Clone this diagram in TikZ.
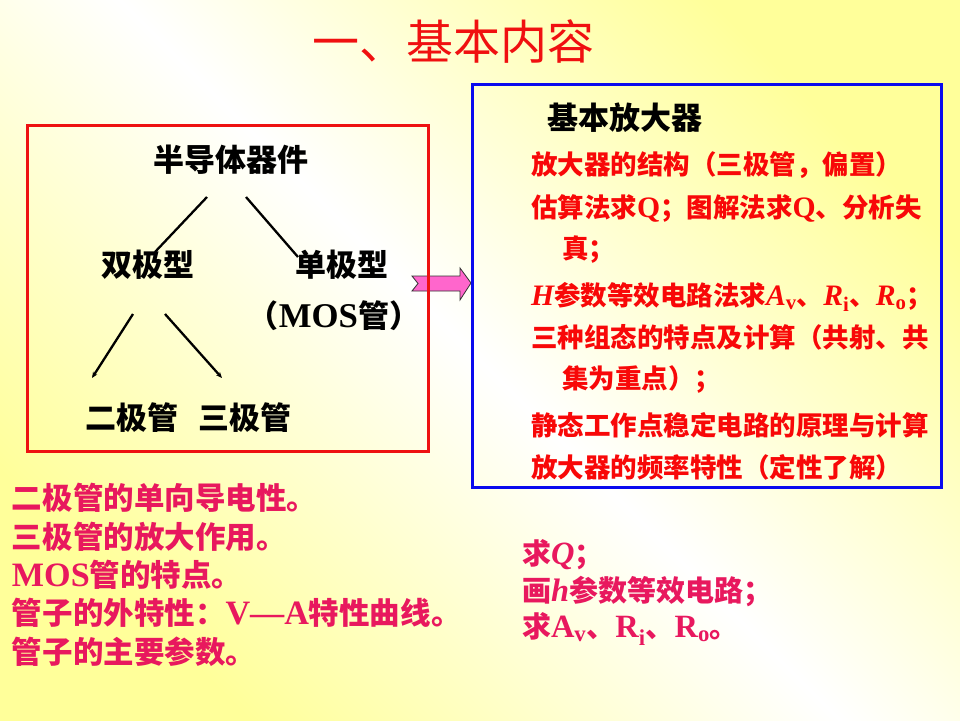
\documentclass[tikz,border=0pt]{standalone}
\usepackage{fontspec}
\setmainfont{Liberation Serif}
\newfontfamily\cjk{Noto Sans CJK SC}
\newfontfamily\enf{Liberation Serif}[Scale=1.12]
\usetikzlibrary{arrows.meta}
\definecolor{bgy}{HTML}{FFFF9A}
\definecolor{pinkt}{HTML}{E8185E}
\definecolor{redt}{HTML}{F80808}
\definecolor{titlered}{HTML}{F01010}
\definecolor{arrowpink}{HTML}{FF66CC}
\definecolor{boxred}{HTML}{EE1111}
\definecolor{boxblue}{HTML}{0A0AEE}
\newcommand\en[1]{{\enf\bfseries #1}}
\begin{document}
\begin{tikzpicture}[x=1pt,y=-1pt,
  every node/.style={inner sep=0pt,outer sep=0pt},
  blk/.style={font=\cjk\bfseries\fontsize{31}{36}\selectfont,text=black},
  redline/.style={anchor=west,font=\cjk\bfseries\fontsize{26.5}{30}\selectfont,text=redt},
  pinkline/.style={anchor=west,font=\cjk\bfseries\fontsize{30.5}{36}\selectfont,text=pinkt},
  pinkline2/.style={anchor=west,font=\cjk\bfseries\fontsize{29}{34}\selectfont,text=pinkt},
  treeline/.style={line width=2.3pt,black},
  treearrow/.style={line width=2.3pt,black,-{Stealth[length=6pt,width=5pt]}}]
\useasboundingbox (0,0) rectangle (960,720);
\shade[top color=bgy,bottom color=bgy,middle color=white,shading angle=-45] (0,0) rectangle (960,720);

% title
\node[font=\cjk\fontsize{47}{52}\selectfont,text=titlered] (title) at (453,42) {一、基本内容};

% pink block arrow
\draw[fill=arrowpink,draw=black!80,line width=0.8pt]
  (412,276) -- (460,276) -- (460,268) -- (471,283) -- (460,300) -- (460,291)
  -- (412,291) -- (418,283.5) -- cycle;

% boxes
\draw[boxred,line width=3pt] (27,125) rectangle (428,451);
\draw[boxblue,line width=3pt] (472,84) rectangle (941,487);

% tree
\node[blk] (semi) at (231,160) {半导体器件};
\node[blk] (bip) at (148,265) {双极型};
\node[blk] (uni) at (342,265) {单极型};
\node[blk] (mos) at (334,316) {（\en{MOS}管）};
\node[blk] (diode) at (132,418) {二极管};
\node[blk] (triode) at (245,418) {三极管};

\coordinate (l1a) at (207,197); \coordinate (l1b) at (155,252);
\coordinate (l2a) at (246,197); \coordinate (l2b) at (298,257);
\coordinate (l3a) at (133,314); \coordinate (l3b) at (92,378);
\coordinate (l4a) at (165,314); \coordinate (l4b) at (222,378);
\draw[treeline] (l1a) -- (l1b);
\draw[treeline] (l2a) -- (l2b);
\draw[treearrow] (l3a) -- (l3b);
\draw[treearrow] (l4a) -- (l4b);

% right box
\node[blk] (amp) at (625,118) {基本放大器};
\node[redline] (r1) at (531,165) {放大器的结构（三极管，偏置）};
\node[redline] (r2) at (531,208) {估算法求\en{Q}；图解法求\en{Q}、分析失};
\node[redline] (r3) at (562,250) {真；};
\node[redline] (r4) at (531,297) {\en{\itshape H}参数等效电路法求\en{\itshape A}\textsubscript{\en{v}}、\en{\itshape R}\textsubscript{\en{i}}、\en{\itshape R}\textsubscript{\en{o}}；};
\node[redline] (r5) at (531,337) {三种组态的特点及计算（共射、共};
\node[redline] (r6) at (562,380) {集为重点）；};
\node[redline] (r7) at (531,425) {静态工作点稳定电路的原理与计算};
\node[redline] (r8) at (531,467) {放大器的频率特性（定性了解）};

% bottom left
\node[pinkline] (b1) at (12,498) {二极管的单向导电性。};
\node[pinkline] (b2) at (12,537) {三极管的放大作用。};
\node[pinkline] (b3) at (12,575) {\en{MOS}管的特点。};
\node[pinkline] (b4) at (12,613) {管子的外特性：\en{V—A}特性曲线。};
\node[pinkline] (b5) at (12,652) {管子的主要参数。};

% bottom right
\node[pinkline2] (c1) at (522,555) {求\en{\itshape Q}；};
\node[pinkline2] (c2) at (522,592) {画\en{\itshape h}参数等效电路；};
\node[pinkline2] (c3) at (522,629) {求\en{A}\textsubscript{\en{v}}、\en{R}\textsubscript{\en{i}}、\en{R}\textsubscript{\en{o}}。};
\end{tikzpicture}
\end{document}
